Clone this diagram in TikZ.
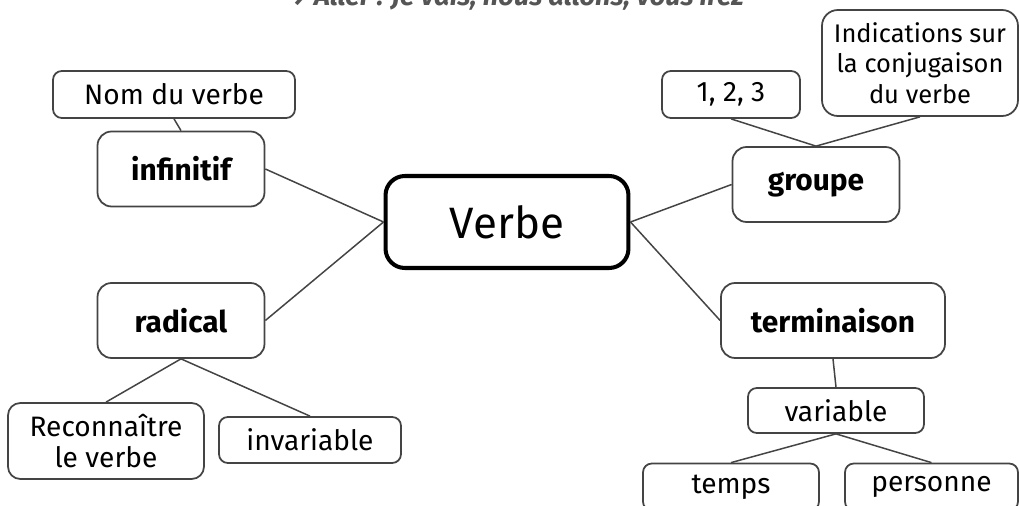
\documentclass[tikz,border=0pt]{standalone}
\usepackage{fontspec}
\setmainfont{Fira Sans}
\usetikzlibrary{positioning}
\definecolor{boxgray}{HTML}{444444}
\definecolor{titlegray}{HTML}{555555}
\tikzset{
  leaf/.style={draw=boxgray,line width=1pt,rounded corners=5pt,align=center,
    inner sep=0pt,font=\fontsize{16}{18}\selectfont},
  branch/.style={draw=boxgray,line width=1pt,rounded corners=8pt,inner sep=0pt,
    font=\bfseries\fontsize{17}{20}\selectfont,minimum width=3.34cm,minimum height=1.5cm},
  hub/.style={draw=black,line width=2.3pt,rounded corners=11pt,inner sep=0pt,
    font=\fontsize{25}{30}\selectfont,minimum width=4.86cm,minimum height=1.84cm},
  link/.style={draw=boxgray,line width=0.85pt}
}

\begin{document}
\begin{tikzpicture}[x=0.02cm,y=-0.02cm]
% Page of 1019 x 506
\useasboundingbox (0,0) rectangle (1019,506);
\clip (0,0) rectangle (1019,506);

% Title line, cut at the top
\node[anchor=base west,text=titlegray,inner sep=0pt,
  font=\bfseries\itshape\fontsize{15.5}{18}\selectfont] (titre) at (283,6)
  {→ Aller : Je vais, nous allons, vous irez};

% Centre
\node[hub] (verbe) at (507,222) {Verbe};

% Branches
\node[branch] (infinitif) at (181,169) {infinitif};
\node[branch] (radical) at (181,320.5) {radical};
\node[branch] (groupe) at (816,184.5) {groupe};
\node[branch,minimum width=4.48cm] (termin) at (833,320.5) {terminaison};

% Leaves
\node[leaf,minimum width=4.84cm,minimum height=0.94cm] (nom) at (174,94.5) {Nom du verbe};
\node[leaf,minimum width=2.76cm,minimum height=0.94cm] (grp) at (731,94.5) {1, 2, 3};
\node[leaf,rounded corners=9pt,minimum width=3.92cm,minimum height=2.12cm,
  font=\fontsize{14.5}{17.5}\selectfont] (indic) at (920,63)
  {Indications sur\\la conjugaison\\du verbe};
\node[leaf,rounded corners=7pt,minimum width=3.92cm,minimum height=1.52cm] (reco) at (106,441)
  {Reconnaître\\le verbe};
\node[leaf,minimum width=3.64cm,minimum height=0.92cm] (invar) at (310,440) {invariable};
\node[leaf,minimum width=3.52cm,minimum height=0.9cm] (variable) at (836,410.5) {variable};
\node[leaf,minimum width=3.52cm,minimum height=0.94cm] (temps) at (731,487) {temps};
\node[leaf,minimum width=3.46cm,minimum height=0.94cm] (personne) at (931.5,487) {personne};

% Links to the centre
\draw[link] (infinitif.east) -- (verbe.west);
\draw[link] (radical.east) -- (verbe.west);
\draw[link] (groupe.west) -- (verbe.east);
\draw[link] (termin.west) -- (verbe.east);

% Links to the leaves
\draw[link] (nom.south) -- (infinitif.north);
\draw[link] (grp.south) -- (groupe.north);
\draw[link] (indic.south) -- (groupe.north);
\draw[link] (radical.south) -- (reco.north);
\draw[link] (radical.south) -- (invar.north);
\draw[link] (termin.south) -- (variable.north);
\draw[link] (variable.south) -- (temps.north);
\draw[link] (variable.south) -- (personne.north);
\end{tikzpicture}
\end{document}
